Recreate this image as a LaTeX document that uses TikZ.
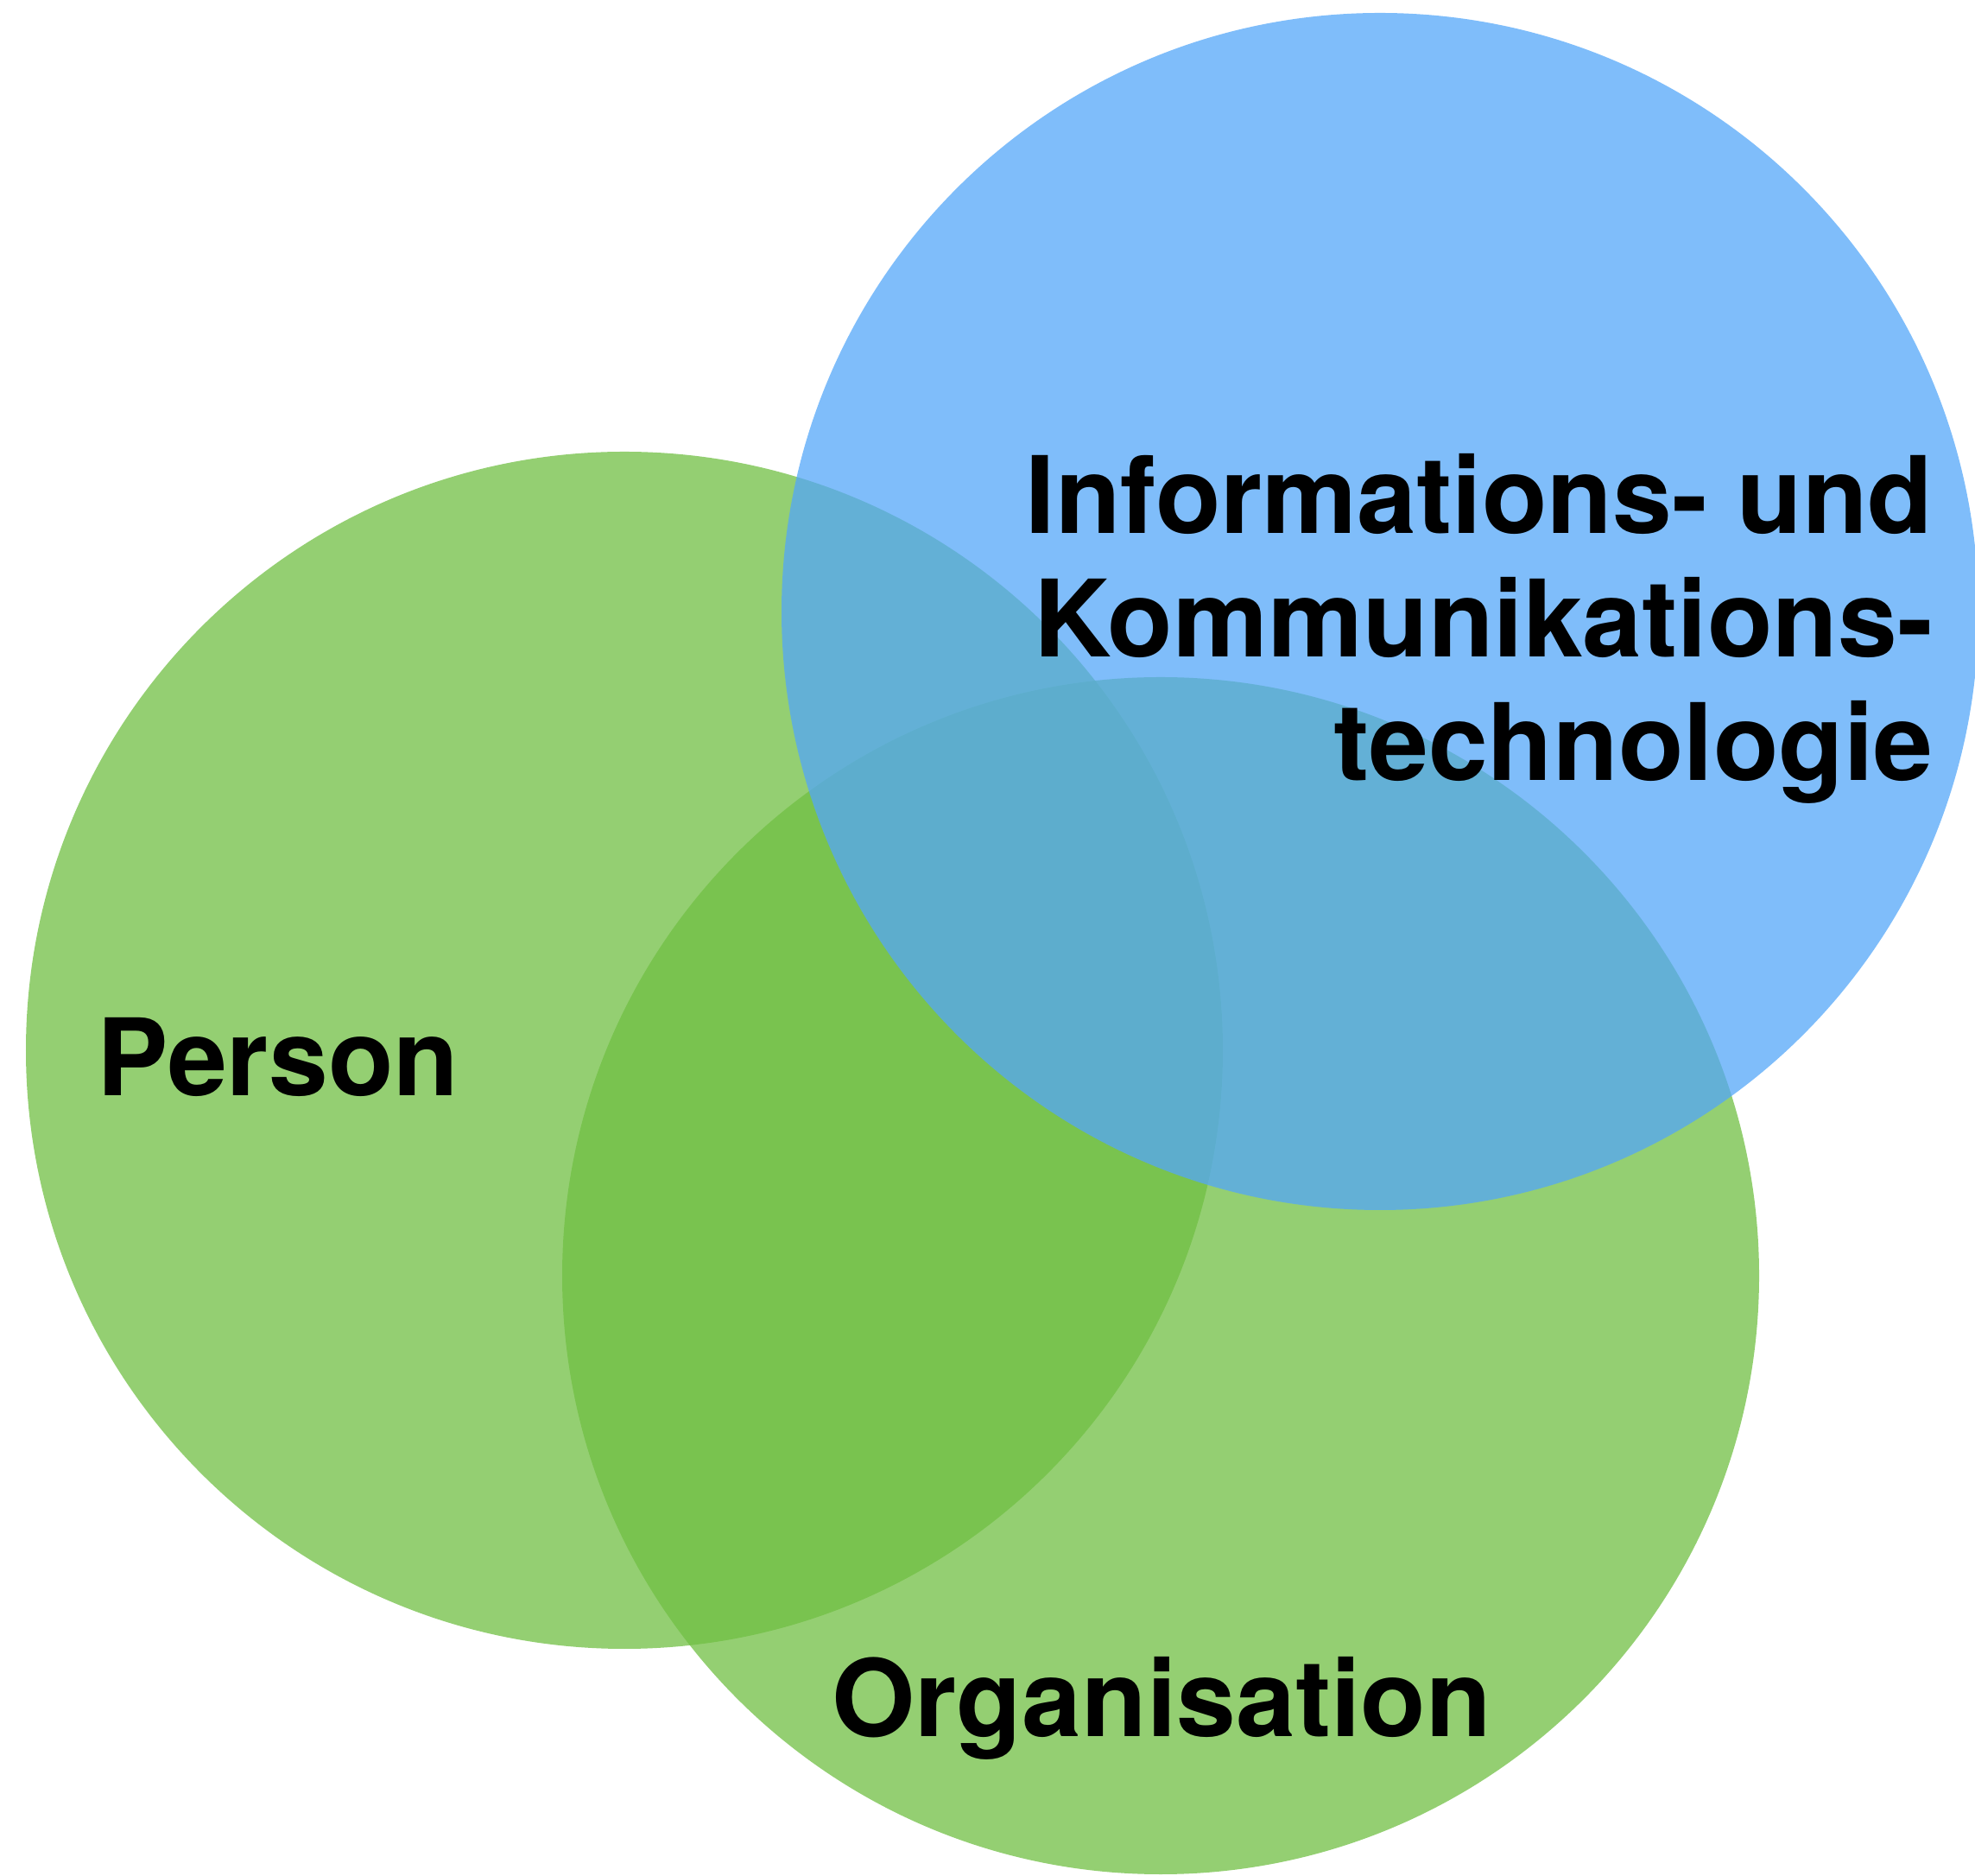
\documentclass[tikz,border=0pt]{standalone}
\usepackage{fontspec}
\setmainfont{TeX Gyre Heros}
\usepackage{tikz}

\definecolor{gruen}{RGB}{112,191,67}
\definecolor{blau}{RGB}{84,167,248}

\begin{document}
\begin{tikzpicture}[
    kreis/.style={circle, minimum size=13.86cm, inner sep=0pt, fill opacity=0.75},
    beschriftung/.style={inner sep=0pt, font=\fontsize{35.2}{40.8}\selectfont\bfseries}
]
    \useasboundingbox (0,0) rectangle (22.87,21.71);

    \path

    %% Kreise
    (7.23,9.55)node[kreis, fill=gruen](person){}
    (13.44,6.94)node[kreis, fill=gruen](organisation){}
    (15.98,14.63)node[kreis, fill=blau](ikt){}

    %% Texte
    (1.12,9.02)node[beschriftung, anchor=base west](tperson){Person}
    (13.45,1.61)node[beschriftung, anchor=base](torganisation){Organisation}
    (22.39,12.67)node[beschriftung, anchor=base east, align=right](tikt){Informations- und\\Kommunikations-\\technologie}

    ;
\end{tikzpicture}
\end{document}
